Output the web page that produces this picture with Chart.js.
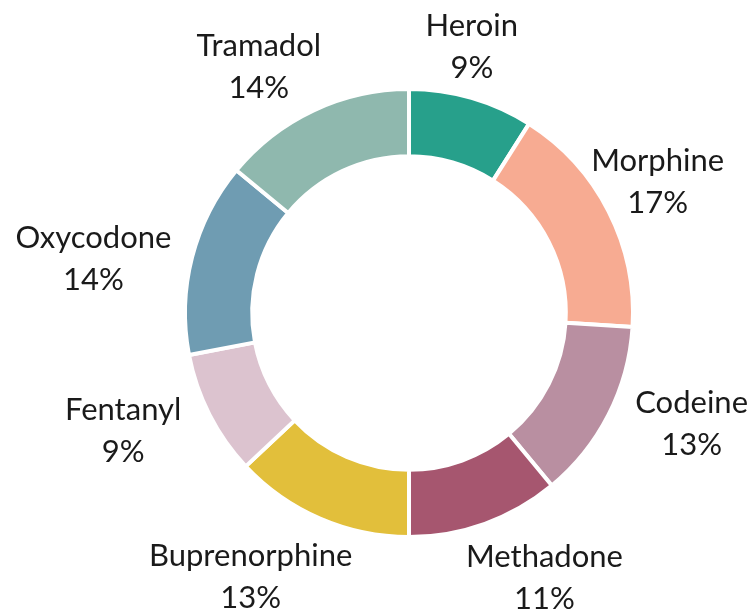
<!DOCTYPE html>
<html>
<head>
<meta charset="utf-8">
<script src="https://cdn.jsdelivr.net/npm/chart.js@4.4.1/dist/chart.umd.min.js"></script>
<style>
  html, body { margin: 0; padding: 0; background: #ffffff; }
  #wrap { width: 750px; height: 615px; position: relative; }
</style>
</head>
<body>
<div id="wrap"><canvas id="c" width="750" height="615"></canvas></div>
<script>
const categories = ["Heroin", "Morphine", "Codeine", "Methadone", "Buprenorphine", "Fentanyl", "Oxycodone", "Tramadol"];
const shares = [9, 17, 13, 11, 13, 9, 14, 14];
const sliceColors = ["#27a08b", "#f7ab92", "#b98fa1", "#a6566f", "#e2bf3b", "#dcc3cf", "#6f9cb2", "#8fb8ae"];

// label layout: manual nudges (px) applied after the outside-end placement
const labelNudgeX = [-17, -21, 20, 37, -40, -22, -10, -27];
const labelNudgeY = [9, 6, -23, -9, -9, -16, 24, 16];

const FONT = '31px Lato, "Open Sans", sans-serif';
const LINE_H = 42;
const GAP = 20;

const outsideLabels = {
  id: 'outsideLabels',
  afterDatasetsDraw(chart) {
    const ctx = chart.ctx;
    const meta = chart.getDatasetMeta(0);
    const data = chart.data.datasets[0].data;
    const total = data.reduce((a, b) => a + b, 0);
    ctx.save();
    ctx.font = '29px Lato, "Open Sans", sans-serif';
    const widths = meta.data.map((arc, i) => Math.max(ctx.measureText(chart.data.labels[i]).width, ctx.measureText(Math.round(data[i] / total * 100) + '%').width));
    ctx.font = FONT;
    ctx.fillStyle = '#1a1a1a';
    ctx.textAlign = 'center';
    ctx.textBaseline = 'middle';
    meta.data.forEach((arc, i) => {
      const p = arc.getProps(['x', 'y', 'startAngle', 'endAngle', 'outerRadius'], true);
      const mid = (p.startAngle + p.endAngle) / 2;
      const lines = [chart.data.labels[i], Math.round(data[i] / total * 100) + '%'];
      const w = widths[i];
      const h = lines.length * LINE_H;
      const c = Math.cos(mid), s = Math.sin(mid);
      const ext = Math.sqrt(Math.pow(c * w / 2, 2) + Math.pow(s * h / 2, 2));
      const r = p.outerRadius + GAP + ext;
      const cx = p.x + c * r + labelNudgeX[i];
      const cy = p.y + s * r + labelNudgeY[i];
      lines.forEach((l, k) => {
        ctx.fillText(l, cx, cy + (k - (lines.length - 1) / 2) * LINE_H);
      });
    });
    ctx.restore();
  }
};

new Chart(document.getElementById('c'), {
  type: 'doughnut',
  data: {
    labels: categories,
    datasets: [{
      data: shares,
      backgroundColor: sliceColors,
      borderColor: '#ffffff',
      borderWidth: 4,
      hoverOffset: 0,
      offset: 0
    }]
  },
  options: {
    responsive: false,
    animation: false,
    cutout: '70%',
    layout: { padding: { left: 183, top: 87, right: 115, bottom: 76 } },
    plugins: {
      legend: { display: false },
      tooltip: { enabled: false }
    },
    events: []
  },
  plugins: [outsideLabels]
});
</script>
</body>
</html>
